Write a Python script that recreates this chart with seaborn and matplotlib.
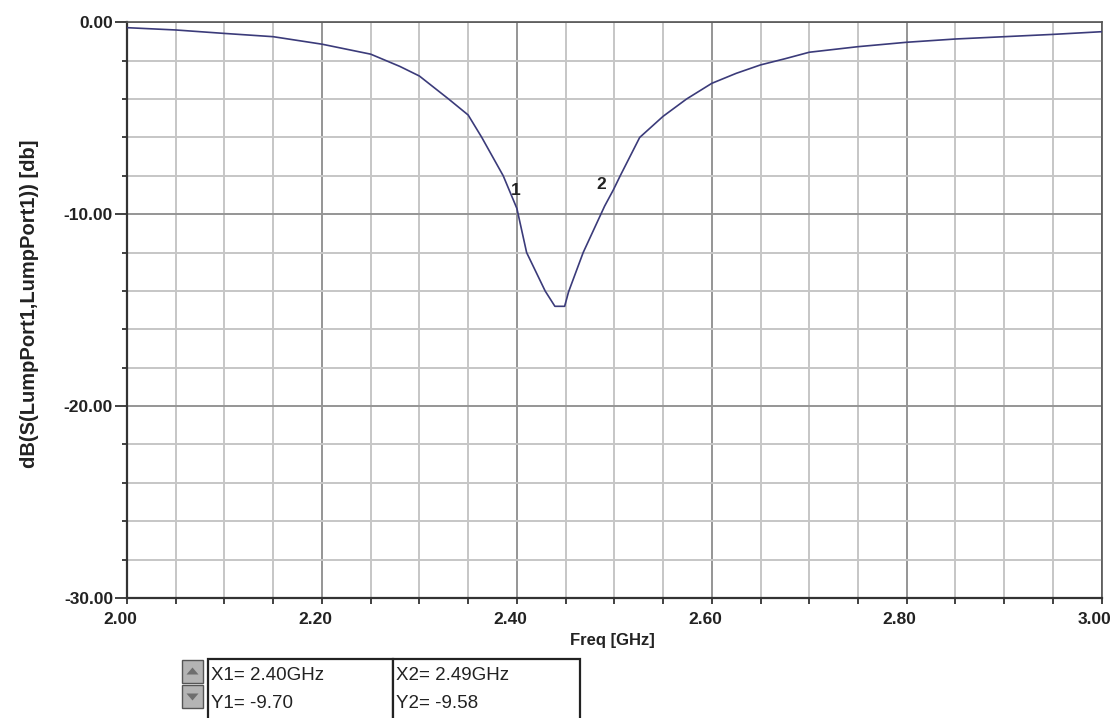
import numpy as np
import pandas as pd
import matplotlib
matplotlib.use('Agg')
import matplotlib.pyplot as plt
import matplotlib.transforms as mtransforms
from matplotlib.patches import Rectangle, Polygon
from matplotlib.ticker import MultipleLocator, FixedLocator
import seaborn as sns

# S11 sweep
freq_ghz = [2.00, 2.05, 2.10, 2.15, 2.20, 2.25, 2.28, 2.30, 2.33, 2.35, 2.364, 2.386,
            2.40, 2.41, 2.429, 2.439, 2.449, 2.453, 2.468, 2.49, 2.499, 2.506, 2.526,
            2.55, 2.574, 2.60, 2.625, 2.65, 2.675, 2.70, 2.75, 2.80, 2.85, 2.90, 2.95, 3.00]
s11_db = [-0.28, -0.40, -0.58, -0.75, -1.14, -1.66, -2.3, -2.8, -4.0, -4.83, -6.0, -8.0,
          -9.70, -12.0, -14.0, -14.8, -14.8, -14.05, -12.0, -9.58, -8.73, -8.0, -6.0,
          -4.9, -4.0, -3.18, -2.66, -2.22, -1.9, -1.56, -1.27, -1.04, -0.87, -0.75, -0.63, -0.49]

marker_names = ['1', '2']
marker_freq = [2.40, 2.49]
marker_db = [-9.70, -9.58]

x_ticks = [2.00, 2.20, 2.40, 2.60, 2.80, 3.00]
y_ticks = [0.0, -10.0, -20.0, -30.0]

sns.set_theme(style='white')
plt.rcParams['font.family'] = ['Liberation Sans', 'DejaVu Sans']

df = pd.DataFrame({'freq': freq_ghz, 's11': s11_db})

W, H = 1118, 718
fig = plt.figure(figsize=(W / 100, H / 100), dpi=100)
ax = fig.add_axes([127 / W, 1 - 598 / H, (1101.7 - 127) / W, (598 - 22.3) / H])

sns.lineplot(data=df, x='freq', y='s11', ax=ax, color='#3b3b7a',
             linewidth=1.2, sort=False, zorder=3)

ax.set_xlim(2.0, 3.0)
ax.set_ylim(-30, 0)

# ticks and grid
ax.xaxis.set_major_locator(FixedLocator(x_ticks))
ax.yaxis.set_major_locator(FixedLocator(y_ticks))
ax.xaxis.set_minor_locator(MultipleLocator(0.05))
ax.yaxis.set_minor_locator(MultipleLocator(2))
ax.set_xticklabels(['%.2f' % v for v in x_ticks], fontsize=12.5, fontweight='bold', color='#222222')
ax.set_yticklabels(['%.2f' % v for v in y_ticks], fontsize=12.5, fontweight='bold', color='#222222')
ax.tick_params(axis='y', which='major', length=9, width=1.3, color='#333333', pad=1, left=True)
ax.tick_params(axis='y', which='minor', length=3.5, width=1.3, color='#333333', left=True)
ax.tick_params(axis='x', which='both', length=4, width=1.3, color='#333333', pad=6, bottom=True)

shift = mtransforms.ScaledTranslation(-7 / 100, 0, fig.dpi_scale_trans)
for lbl in ax.get_xticklabels():
    lbl.set_transform(lbl.get_transform() + shift)

ax.grid(which='minor', color='#c6c6c6', linewidth=1.4)
ax.grid(which='major', color='#959595', linewidth=1.4)
ax.set_axisbelow(True)

for side in ['left', 'bottom']:
    ax.spines[side].set_color('#333333')
    ax.spines[side].set_linewidth(1.6)
for side in ['top', 'right']:
    ax.spines[side].set_color('#555555')
    ax.spines[side].set_linewidth(1.2)

ax.set_xlabel('')
ax.set_ylabel('')
fig.text(30 / W, 1 - 304 / H, 'dB(S(LumpPort1,LumpPort1)) [db]', rotation=90,
         ha='center', va='center', fontsize=14.5, fontweight='bold', color='#222222')
fig.text(612 / W, 1 - 640 / H, 'Freq [GHz]', ha='center', va='center',
         fontsize=12, fontweight='bold', color='#222222')

# marker labels
offsets = [(-1, 18), (-3, 22)]
for name, fx, fy, off in zip(marker_names, marker_freq, marker_db, offsets):
    ax.annotate(name, (fx, fy), xytext=off, textcoords='offset pixels',
                ha='center', va='center', fontsize=12.5, fontweight='bold', color='#222222')

# marker readout table below the plot
def fx(px):
    return px / W

def fy(py):
    return 1 - py / H

for x0, x1 in [(208, 393), (393, 580)]:
    fig.patches.append(Rectangle((fx(x0), fy(720)), fx(x1) - fx(x0), fy(659) - fy(720),
                                 transform=fig.transFigure, facecolor='white',
                                 edgecolor='#222222', linewidth=1.6))
for y0, y1, up in [(660, 683, True), (685, 708, False)]:
    fig.patches.append(Rectangle((fx(182), fy(y1)), fx(203) - fx(182), fy(y0) - fy(y1),
                                 transform=fig.transFigure, facecolor='#b4b4b4',
                                 edgecolor='#555555', linewidth=1.0))
    cx, cy = 192.5, (y0 + y1) / 2
    if up:
        tri = [(cx - 6, cy + 3), (cx + 6, cy + 3), (cx, cy - 4)]
    else:
        tri = [(cx - 6, cy - 3), (cx + 6, cy - 3), (cx, cy + 4)]
    fig.patches.append(Polygon([(fx(a), fy(b)) for a, b in tri], closed=True,
                               transform=fig.transFigure, facecolor='#6e6e6e', edgecolor='none'))

readouts = [('X1= %.2fGHz' % marker_freq[0], 'Y1= %.2f' % marker_db[0], 211),
            ('X2= %.2fGHz' % marker_freq[1], 'Y2= %.2f' % marker_db[1], 396)]
for top, bottom, px in readouts:
    fig.text(fx(px), fy(676), top, ha='left', va='center', fontsize=13.5, color='#222222')
    fig.text(fx(px), fy(704), bottom, ha='left', va='center', fontsize=13.5, color='#222222')

fig.savefig('out.png', dpi=100, facecolor='white')
